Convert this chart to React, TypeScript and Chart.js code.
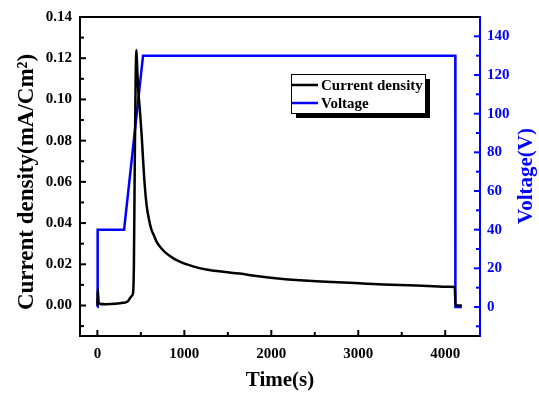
import React, { useEffect, useRef } from "react";
import { Chart, registerables } from "chart.js";

Chart.register(...registerables);

const TIME_CD = [0, 5, 15, 100, 200, 295, 350, 392, 410, 420, 430, 440, 449, 458, 468, 490, 510, 525, 545, 565, 590, 620, 650, 680, 720, 780, 870, 960, 1100, 1250, 1400, 1637, 1850, 2134, 2330, 2518, 2700, 2901, 3100, 3284, 3480, 3668, 3860, 4051, 4110, 4118, 4190];
const CURRENT_DENSITY = [0.0, 0.008, 0.001, 0.0006, 0.0008, 0.0013, 0.002, 0.0045, 0.006, 0.02, 0.07, 0.11, 0.124, 0.115, 0.106, 0.094, 0.082, 0.071, 0.058, 0.049, 0.0425, 0.037, 0.034, 0.031, 0.0285, 0.0258, 0.023, 0.021, 0.019, 0.0175, 0.0166, 0.0155, 0.0142, 0.0129, 0.0123, 0.0118, 0.0114, 0.011, 0.0106, 0.0102, 0.0099, 0.0097, 0.0094, 0.0091, 0.009, 0.0, 0.0];

const TIME_V = [0, 3, 307, 525, 4116, 4117, 4192];
const VOLTAGE = [0, 40, 40, 130, 130, 0, 0];

const X_TICKS = [0, 1000, 2000, 3000, 4000];
const X_MINOR = [500, 1500, 2500, 3500];
const Y_TICKS = [0, 0.02, 0.04, 0.06, 0.08, 0.1, 0.12, 0.14];
const Y_MINOR = [-0.01, 0.01, 0.03, 0.05, 0.07, 0.09, 0.11, 0.13];
const Y1_TICKS = [0, 20, 40, 60, 80, 100, 120, 140];
const Y1_MINOR = [-10, 10, 30, 50, 70, 90, 110, 130];

const SERIES_NAMES = ["Current density", "Voltage"];
const X_TITLE = "Time(s)";
const Y_TITLE = "Current density(mA/Cm²)";
const Y1_TITLE = "Voltage(V)";

const FONT = "'Liberation Serif', 'Times New Roman', serif";
const BLUE = "#0000ff";

const decorPlugin = {
  id: "decor",
  afterDraw(chart: any) {
    const ctx = chart.ctx as CanvasRenderingContext2D;
    const area = chart.chartArea;
    const xs = chart.scales.x;
    const ys = chart.scales.y;
    const y1s = chart.scales.y1;
    ctx.save();
    // top border
    ctx.strokeStyle = "#000";
    ctx.lineWidth = 2;
    ctx.beginPath();
    ctx.moveTo(area.left, area.top);
    ctx.lineTo(area.right, area.top);
    ctx.stroke();

    // inward ticks
    const tickX = (vals: number[], len: number) => {
      vals.forEach((v) => {
        const px = xs.getPixelForValue(v);
        ctx.beginPath();
        ctx.moveTo(px, area.bottom);
        ctx.lineTo(px, area.bottom - len);
        ctx.stroke();
      });
    };
    const tickY = (scale: any, vals: number[], len: number, side: number) => {
      vals.forEach((v) => {
        const py = scale.getPixelForValue(v);
        const x0 = side < 0 ? area.left : area.right;
        ctx.beginPath();
        ctx.moveTo(x0, py);
        ctx.lineTo(x0 - side * len, py);
        ctx.stroke();
      });
    };
    ctx.strokeStyle = "#000";
    ctx.lineWidth = 2;
    tickX(X_TICKS, 6);
    tickX(X_MINOR, 4);
    tickY(ys, Y_TICKS, 6, -1);
    tickY(ys, Y_MINOR, 4, -1);
    ctx.strokeStyle = BLUE;
    tickY(y1s, Y1_TICKS, 6, 1);
    tickY(y1s, Y1_MINOR, 4, 1);

    // axis titles
    ctx.font = `bold 21px ${FONT}`;
    ctx.textAlign = "center";
    ctx.textBaseline = "middle";
    ctx.fillStyle = "#000";
    ctx.fillText(X_TITLE, (area.left + area.right) / 2, 381);
    ctx.save();
    ctx.translate(27, 182);
    ctx.rotate(-Math.PI / 2);
    ctx.font = `bold 23px ${FONT}`;
    ctx.fillText(Y_TITLE, 0, 0);
    ctx.restore();
    ctx.save();
    ctx.translate(527, 176);
    ctx.rotate(-Math.PI / 2);
    ctx.fillStyle = BLUE;
    ctx.fillText(Y1_TITLE, 0, 0);
    ctx.restore();

    // legend
    const lx = 291, ly = 74, lw = 134, lh = 39;
    ctx.fillStyle = "#000";
    ctx.fillRect(lx + 5, ly + 5, lw, lh);
    ctx.fillStyle = "#fff";
    ctx.fillRect(lx, ly, lw, lh);
    ctx.strokeStyle = "#000";
    ctx.lineWidth = 1;
    ctx.strokeRect(lx + 0.5, ly + 0.5, lw, lh);
    const colors = ["#000", BLUE];
    const rows = [85, 103];
    ctx.font = `bold 15px ${FONT}`;
    ctx.textAlign = "left";
    ctx.textBaseline = "middle";
    SERIES_NAMES.forEach((name, i) => {
      ctx.strokeStyle = colors[i];
      ctx.lineWidth = 2.5;
      ctx.beginPath();
      ctx.moveTo(lx + 1, rows[i]);
      ctx.lineTo(lx + 27, rows[i]);
      ctx.stroke();
      ctx.fillStyle = "#000";
      ctx.fillText(name, lx + 30, rows[i] + 1);
    });
    ctx.restore();
  },
};

export default function App() {
  const ref = useRef<HTMLCanvasElement>(null);
  useEffect(() => {
    document.body.style.margin = "0";
    const canvas = ref.current!;
    const tickFont = { family: FONT, size: 15, weight: "bold" as const };
    const chart = new Chart(canvas, {
      type: "line",
      data: {
        datasets: [
          {
            label: SERIES_NAMES[0],
            data: TIME_CD.map((t, i) => ({ x: t, y: CURRENT_DENSITY[i] })),
            borderColor: "#000",
            borderWidth: 2.5,
            pointRadius: 0,
            cubicInterpolationMode: "monotone",
            yAxisID: "y",
          },
          {
            label: SERIES_NAMES[1],
            data: TIME_V.map((t, i) => ({ x: t, y: VOLTAGE[i] })),
            borderColor: BLUE,
            borderWidth: 2.5,
            pointRadius: 0,
            tension: 0,
            yAxisID: "y1",
          },
        ],
      },
      options: {
        responsive: false,
        animation: false,
        layout: { padding: { top: 16, left: 0, right: 0, bottom: 0 } },
        plugins: { legend: { display: false }, tooltip: { enabled: false } },
        scales: {
          x: {
            type: "linear",
            min: -200,
            max: 4400,
            grid: { display: false, drawTicks: false },
            border: { display: true, color: "#000", width: 2 },
            ticks: { font: tickFont, color: "#000", padding: 9, callback: (v: any) => String(v) },
            afterBuildTicks: (s: any) => {
              s.ticks = X_TICKS.map((v) => ({ value: v }));
            },
            afterFit: (s: any) => {
              s.height = 58;
            },
          },
          y: {
            type: "linear",
            position: "left",
            min: -0.0148,
            max: 0.14,
            grid: { display: false, drawTicks: false },
            border: { display: true, color: "#000", width: 2 },
            ticks: {
              font: tickFont,
              color: "#000",
              padding: 8,
              callback: (v: any) => Number(v).toFixed(2),
            },
            afterBuildTicks: (s: any) => {
              s.ticks = Y_TICKS.map((v) => ({ value: v }));
            },
            afterFit: (s: any) => {
              s.width = 80;
            },
          },
          y1: {
            type: "linear",
            position: "right",
            min: -15,
            max: 150,
            grid: { display: false, drawTicks: false },
            border: { display: true, color: BLUE, width: 2 },
            ticks: { font: tickFont, color: BLUE, padding: 7, callback: (v: any) => String(v) },
            afterBuildTicks: (s: any) => {
              s.ticks = Y1_TICKS.map((v) => ({ value: v }));
            },
            afterFit: (s: any) => {
              s.width = 59;
            },
          },
        },
      },
      plugins: [decorPlugin],
    });
    return () => chart.destroy();
  }, []);
  return <canvas ref={ref} width={539} height={394} style={{ display: "block" }} />;
}
